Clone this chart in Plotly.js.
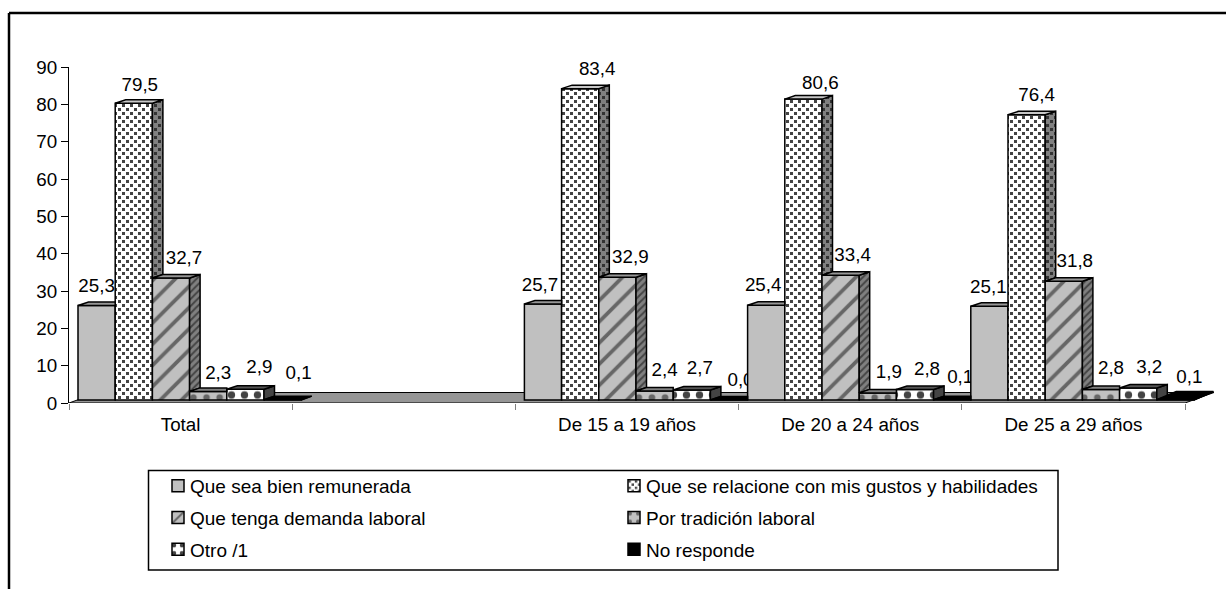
<!DOCTYPE html>
<html><head><meta charset="utf-8">
<script src="https://cdn.plot.ly/plotly-3.0.1.min.js"></script>
<style>html,body{margin:0;padding:0;background:#fff}#c{width:1226px;height:589px}</style>
</head><body><div id="c"></div>
<script>
// ---- data ----
const categories = ["Total", " ", "De 15 a 19 años", "De 20 a 24 años", "De 25 a 29 años"];
const seriesNames = ["Que sea bien remunerada", "Que se relacione con mis gustos y habilidades", "Que tenga demanda laboral", "Por tradición laboral", "Otro /1", "No responde"];
const bienRemunerada = [25.3, null, 25.7, 25.4, 25.1];
const gustosHabilidades = [79.5, null, 83.4, 80.6, 76.4];
const demandaLaboral = [32.7, null, 32.9, 33.4, 31.8];
const tradicionLaboral = [2.3, null, 2.4, 1.9, 2.8];
const otro = [2.9, null, 2.7, 2.8, 3.2];
const noResponde = [0.1, null, 0.0, 0.1, 0.1];
const yTicks = [0, 10, 20, 30, 40, 50, 60, 70, 80, 90];

// ---- layout constants ----
const W = 1226, H = 589, L = 69, T = 67, B = 403;
const pxX = 223.2;                             // px per category
const extra = 35 / pxX;                        // room right of the last category for the floor's corner
const R = L + (categories.length + extra) * pxX;
const FONT = "Liberation Sans, Arial, sans-serif", FS = 18.8, LFS = 19;
const pxY = (B - T) / 90;                      // px per value unit
const nSeries = 6, barW = 1 / nSeries;
const frontShift = 9 / pxX, baseLift = 3 / pxY;   // front face sits inside the floor
const dx = 10.5 / pxX, dy = 3.5 / pxY;            // bar depth
const series = [bienRemunerada, gustosHabilidades, demandaLaboral, tradicionLaboral, otro, noResponde];

const front = [
  {color:"#c0c0c0"},
  {color:"#ffffff", pattern:{shape:".", fgcolor:"#444", bgcolor:"#fff", size:8, solidity:.14, fillmode:"replace"}},
  {color:"#c0c0c0", pattern:{shape:"/", fgcolor:"#666", bgcolor:"#c0c0c0", size:15, solidity:.25, fillmode:"replace"}},
  {color:"#c0c0c0", pattern:{shape:".", fgcolor:"#666", bgcolor:"#c0c0c0", size:13.1, solidity:.2, fillmode:"replace"}},
  {color:"#ffffff", pattern:{shape:".", fgcolor:"#444", bgcolor:"#fff", size:13, solidity:.25, fillmode:"replace"}},
  {color:"#000000"}
];
const sideFill = [
  {fillcolor:"#969696"},
  {fillcolor:"#808080", fillpattern:{shape:".", fgcolor:"#333", bgcolor:"#808080", size:8, solidity:.14}},
  {fillcolor:"#808080", fillpattern:{shape:"/", fgcolor:"#444", bgcolor:"#808080", size:5, solidity:.4}},
  {fillcolor:"#808080"},
  {fillcolor:"#444444"},
  {fillcolor:"#000000"}
];
const topFill = [
  {fillcolor:"#969696"},
  {fillcolor:"#c8c8c8"},
  {fillcolor:"#969696"},
  {fillcolor:"#808080"},
  {fillcolor:"#555555"},
  {fillcolor:"#000000"}
];

// label nudges from the bar's front top, px
const labelDX = [[0,null,-3,-3,-1],[6,null,17,17,10],[13,null,13,12,11],[10,null,10,11,10],[14,null,8,12,11],[16,null,11.5,8,14]];
const labelDY = [[18.5,null,17.5,18.5,17.5],[16.5,null,18.5,14.5,18.5],[18.5,null,18.5,18.5,18.5],[17.5,null,19.5,19.5,20.5],[20.5,null,20.5,19.5,19.5],[25.5,null,18.5,21.5,21.5]];

const traces = [];
const leftX = (i, s) => i - 0.5 + s * barW + frontShift;

// floor
traces.push({type:"scatter", mode:"lines", x:[-0.5, 4.5, 4.5 + 29/pxX, -0.5 + 29/pxX, -0.5], y:[0, 0, 10.5/pxY, 10.5/pxY, 0],
  fill:"toself", fillcolor:"#969696", line:{color:"#000", width:1}, showlegend:false, hoverinfo:"skip", cliponaxis:false, xaxis:"x", yaxis:"y"});

// value labels go below the bars, so the bars can cut them
const lx = [], ly = [], lt = [];
series.forEach((vals, s) => vals.forEach((v, i) => {
  if (v === null) return;
  lx.push(leftX(i, s) + barW / 2 + labelDX[s][i] / pxX);
  ly.push(v + baseLift + labelDY[s][i] / pxY);
  lt.push(v.toFixed(1).replace(".", ","));
}));
traces.push({type:"scatter", mode:"text", x:lx, y:ly, text:lt, textposition:"middle center",
  textfont:{family:FONT, size:FS, color:"#000"}, showlegend:false, hoverinfo:"skip", cliponaxis:false, xaxis:"x", yaxis:"y"});

// front faces
series.forEach((vals, s) => {
  const xs = [], ys = [];
  vals.forEach((v, i) => { xs.push(leftX(i, s) + barW / 2); ys.push(v); });
  traces.push({type:"bar", name:seriesNames[s], x:xs, y:ys, base:baseLift, width:barW,
    marker:Object.assign({line:{color:"#000", width:1.5}}, front[s]),
    legend: s % 2 ? "legend2" : "legend", legendgroup:"g" + s, xaxis:"x", yaxis:"y2", hoverinfo:"skip"});
});

// depth faces
const nextVal = (i, s) => {
  if (s < nSeries - 1) return series[s + 1][i];
  const nxt = series[0][i + 1];
  return nxt === undefined ? null : nxt;
};
series.forEach((vals, s) => {
  const sx = [], sy = [], tx = [], ty = [];
  vals.forEach((v, i) => {
    if (v === null) return;
    const xl = leftX(i, s), xr = xl + barW, yv = v + baseLift, nv = nextVal(i, s);
    const last = s === nSeries - 1 && i === vals.length - 1;
    const ddx = last ? dx * 1.85 : dx, ddy = last ? dy * 2.3 : dy;
    if (nv !== null && nv >= v) {
      tx.push(xl, xr, xr, xl + ddx, xl, null);
      ty.push(yv, yv, yv + ddy, yv + ddy, yv, null);
    } else {
      const lo = (nv === null ? 0 : nv) + baseLift;
      sx.push(xr, xr + ddx, xr + ddx, xr, xr, null);
      sy.push(lo, lo + ddy, yv + ddy, yv, lo, null);
      tx.push(xl, xr, xr + ddx, xl + ddx, xl, null);
      ty.push(yv, yv, yv + ddy, yv + ddy, yv, null);
    }
  });
  const base = {type:"scatter", mode:"lines", fill:"toself", line:{color:"#000", width:1.5}, showlegend:false,
    hoverinfo:"skip", cliponaxis:false, xaxis:"x", yaxis:"y2"};
  traces.push(Object.assign({}, base, {x:sx, y:sy}, sideFill[s]));
  traces.push(Object.assign({}, base, {x:tx, y:ty}, topFill[s]));
});

const px2x = p => (p - L) / (R - L);
const px2y = p => (B - p) / (B - T);
const legendStyle = {font:{family:FONT, size:LFS, color:"#000"}, bgcolor:"rgba(0,0,0,0)", borderwidth:0,
  orientation:"v", xanchor:"left", yanchor:"top", tracegroupgap:4, itemclick:false, itemdoubleclick:false, traceorder:"grouped"};

const layout = {
  width:W, height:H, showlegend:true, paper_bgcolor:"#fff", plot_bgcolor:"rgba(0,0,0,0)",
  margin:{l:L, r:W - R, t:T, b:H - B, pad:0, autoexpand:false},
  barmode:"overlay",
  font:{family:FONT, size:FS, color:"#000"},
  xaxis:{type:"linear", range:[-0.5, 4.5 + extra], tickmode:"array", tickvals:categories.map((c, i) => i), ticktext:categories,
    ticks:"", showgrid:false, zeroline:false, showline:false, ticklabelstandoff:8,
    tickfont:{family:FONT, size:FS, color:"#000"},
    minor:{tickmode:"array", tickvals:[-0.5,0.5,1.5,2.5,3.5,4.5], ticks:"outside", ticklen:6, tickcolor:"#808080", tickwidth:1, showgrid:false}},
  yaxis:{range:[0, 90], tickmode:"array", tickvals:yTicks, ticks:"outside", ticklen:7, tickcolor:"#000", tickwidth:1,
    showgrid:false, zeroline:false, showline:true, linecolor:"#000", linewidth:1,
    tickfont:{family:FONT, size:FS, color:"#000"}},
  yaxis2:{range:[0, 90], overlaying:"y", visible:false, showgrid:false, zeroline:false},
  legend:Object.assign({x:px2x(150), y:px2y(467)}, legendStyle),
  legend2:Object.assign({x:px2x(606), y:px2y(467)}, legendStyle),
  shapes:[
    {type:"line", xref:"paper", yref:"paper", x0:px2x(9), x1:px2x(W), y0:px2y(13), y1:px2y(13), line:{color:"#000", width:2.5}},
    {type:"line", xref:"paper", yref:"paper", x0:px2x(9), x1:px2x(9), y0:px2y(13), y1:px2y(H), line:{color:"#000", width:2.5}},
    {type:"rect", xref:"paper", yref:"paper", x0:px2x(148.5), x1:px2x(1058), y0:px2y(470.5), y1:px2y(570), line:{color:"#000", width:1.5}, fillcolor:"rgba(0,0,0,0)", layer:"below"}
  ]
};

Plotly.newPlot("c", traces, layout, {displayModeBar:false, staticPlot:true}).then(() => {
  document.querySelectorAll(".legendsymbols").forEach(g => g.setAttribute("transform", "translate(8,0)"));
  // stagger the dotted fill (second dot in each tile) and set the phase of the coarse dots
  const NS = "http://www.w3.org/2000/svg";
  document.querySelectorAll("pattern").forEach(p => {
    const c = p.querySelector("circle");
    if (!c) return;
    const w = parseFloat(p.getAttribute("width"));
    if (w === 8) {
      c.remove();
      const fill = c.getAttribute("fill") || c.style.fill;
      [[2.5,2.5],[6.5,6.5]].forEach(q => {
        const r = document.createElementNS(NS, "rect");
        r.setAttribute("x", q[0] - 1.5); r.setAttribute("y", q[1] - 1.5);
        r.setAttribute("width", 3); r.setAttribute("height", 3);
        r.style.fill = fill;
        p.appendChild(r);
      });
    } else if ((w === 13 || w === 13.1) && !p.getAttribute("patternTransform")) {
      p.setAttribute("patternTransform", "translate(0,-3.5)");
    }
  });
});
</script></body></html>
